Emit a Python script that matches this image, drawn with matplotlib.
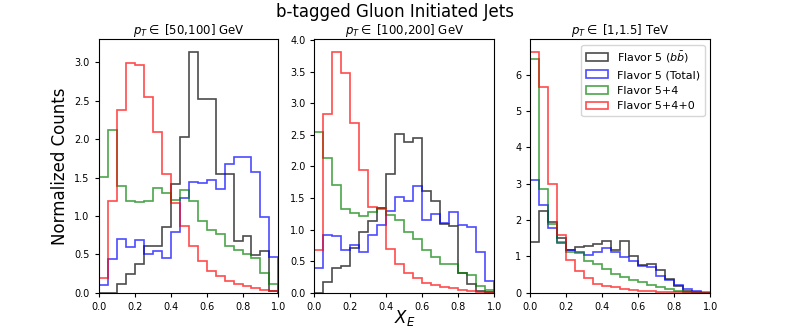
import numpy as np
import matplotlib
matplotlib.use("Agg")
import matplotlib.pyplot as plt

edges = np.linspace(0, 1, 21)

titles = [r"$p_T \in$ [50,100] GeV", r"$p_T \in$ [100,200] GeV", r"$p_T \in$ [1,1.5] TeV"]
labels = [r"Flavor 5 ($b\bar{b}$)", "Flavor 5 (Total)", "Flavor 5+4", "Flavor 5+4+0"]
colors = ["k", "b", "g", "r"]

# Panel 1: pT in [50,100] GeV
p1_bb = [0.0, 0.0, 0.12, 0.25, 0.37, 0.61, 0.61, 0.86, 1.41, 2.03,
         3.14, 2.52, 2.52, 1.54, 1.54, 0.67, 0.74, 0.49, 0.55, 0.02]
p1_total = [0.10, 0.44, 0.70, 0.59, 0.69, 0.50, 0.54, 0.45, 0.79, 1.24,
            1.44, 1.43, 1.47, 1.35, 1.67, 1.77, 1.77, 1.57, 0.99, 0.47]
p1_54 = [1.51, 2.12, 1.39, 1.20, 1.18, 1.19, 1.37, 1.30, 1.21, 1.34,
         1.19, 0.93, 0.82, 0.77, 0.61, 0.56, 0.51, 0.45, 0.26, 0.11]
p1_540 = [0.19, 1.20, 2.38, 2.99, 2.97, 2.55, 2.09, 1.55, 1.17, 0.87,
          0.61, 0.42, 0.29, 0.22, 0.16, 0.11, 0.09, 0.06, 0.04, 0.02]

# Panel 2: pT in [100,200] GeV
p2_bb = [0.0, 0.17, 0.40, 0.43, 0.71, 0.97, 1.13, 1.35, 1.88, 2.51,
         2.38, 2.45, 1.61, 1.45, 1.09, 1.05, 0.31, 0.14, 0.03, 0.02]
p2_total = [0.39, 0.91, 0.90, 0.67, 0.75, 0.65, 0.91, 1.08, 1.30, 1.52,
            1.46, 1.69, 1.15, 1.24, 1.11, 1.28, 1.07, 1.04, 0.64, 0.19]
p2_54 = [2.54, 2.13, 1.70, 1.33, 1.26, 1.21, 1.28, 1.33, 1.23, 1.16,
         0.96, 0.85, 0.67, 0.56, 0.45, 0.45, 0.32, 0.28, 0.11, 0.05]
p2_540 = [0.68, 2.83, 3.82, 3.48, 2.69, 1.95, 1.36, 1.34, 0.69, 0.46,
          0.31, 0.24, 0.16, 0.12, 0.09, 0.07, 0.05, 0.03, 0.02, 0.01]

# Panel 3: pT in [1,1.5] TeV
p3_bb = [1.41, 2.24, 1.94, 1.50, 1.19, 1.27, 1.30, 1.33, 1.43, 1.19,
         1.43, 1.00, 0.76, 0.80, 0.63, 0.37, 0.18, 0.05, 0.02, 0.0]
p3_total = [3.10, 2.43, 1.79, 1.37, 1.17, 1.12, 1.04, 1.13, 1.23, 1.11,
            0.99, 0.87, 0.74, 0.70, 0.47, 0.34, 0.22, 0.11, 0.05, 0.0]
p3_54 = [6.43, 2.85, 1.88, 1.41, 1.12, 1.09, 0.87, 0.78, 0.66, 0.53,
         0.43, 0.36, 0.29, 0.22, 0.16, 0.10, 0.06, 0.03, 0.01, 0.0]
p3_540 = [6.64, 5.66, 2.99, 1.59, 0.91, 0.59, 0.41, 0.24, 0.20, 0.15,
          0.10, 0.08, 0.06, 0.04, 0.03, 0.02, 0.01, 0.01, 0.01, 0.01]

panels = [
    [p1_bb, p1_total, p1_54, p1_540],
    [p2_bb, p2_total, p2_54, p2_540],
    [p3_bb, p3_total, p3_54, p3_540],
]

fig, axes = plt.subplots(1, 3, figsize=(7.89, 3.29), dpi=100)
centers = 0.5 * (edges[:-1] + edges[1:])
for ax, title, series in zip(axes, titles, panels):
    for vals, lab, col in zip(series, labels, colors):
        ax.hist(centers, bins=edges, weights=vals, histtype="step",
                color=col, alpha=0.7, linewidth=1.2, label=lab)
    ax.set_xlim(0, 1)
    ax.set_title(title, fontsize=8.5, pad=3)
    ax.tick_params(labelsize=7, length=3)

axes[0].set_ylabel("Normalized Counts", fontsize=12)
axes[1].set_xlabel(r"$X_E$", fontsize=12, labelpad=-3)
axes[2].legend(loc="upper right", fontsize=8)
fig.suptitle("b-tagged Gluon Initiated Jets", fontsize=12, y=0.99)

fig.savefig("out.png", dpi=100)
